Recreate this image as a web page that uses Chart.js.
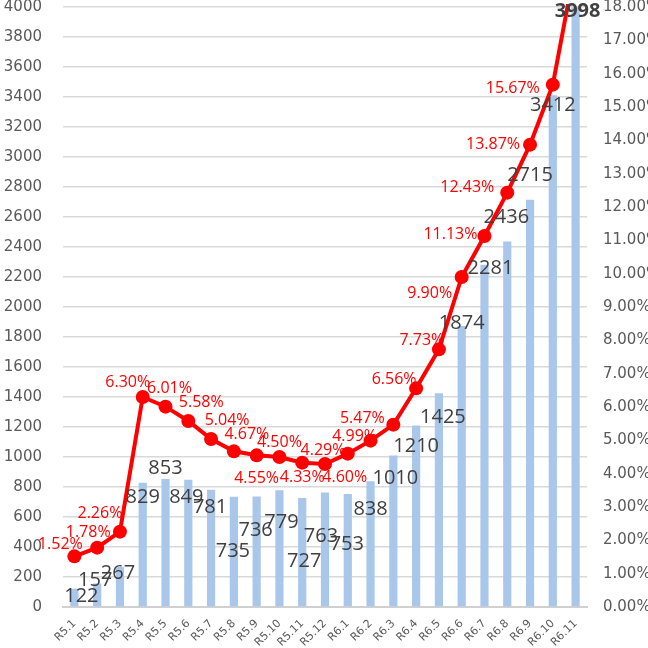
<!DOCTYPE html>
<html>
<head>
<meta charset="utf-8">
<script src="https://cdn.jsdelivr.net/npm/chart.js@4/dist/chart.umd.min.js"></script>
<style>
  html, body { margin: 0; padding: 0; background: #fff; }
  #wrap { width: 648px; height: 648px; }
</style>
</head>
<body>
<div id="wrap"><canvas id="myChart" width="648" height="648"></canvas></div>
<script>
const months = ["R5.1", "R5.2", "R5.3", "R5.4", "R5.5", "R5.6", "R5.7", "R5.8", "R5.9", "R5.10", "R5.11", "R5.12",
  "R6.1", "R6.2", "R6.3", "R6.4", "R6.5", "R6.6", "R6.7", "R6.8", "R6.9", "R6.10", "R6.11"];
const counts = [122, 157, 267, 829, 853, 849, 781, 735, 736, 779, 727, 763,
  753, 838, 1010, 1210, 1425, 1874, 2281, 2436, 2715, 3412, 3998];
const rates = [1.52, 1.78, 2.26, 6.30, 6.01, 5.58, 5.04, 4.67, 4.55, 4.50, 4.33, 4.29,
  4.60, 4.99, 5.47, 6.56, 7.73, 9.90, 11.13, 12.43, 13.87, 15.67, 19.3];

// label placement (pixels, relative to bar top / point), like excel put them
const countOffsets = [[7, 8], [-2, -3], [-2, 6], [0, 15], [0, -11], [-2, 18], [-1, 17], [-1, 55], [-1, 34], [2, 32],
  [2, 63], [-4, 44], [-1, 50], [0, 28], [2, 23], [0, 21], [4, 24], [0, -3], [6, 3], [-1, -24], [0, -24], [0, 10], [2, 4]];
const rateOffsets = [[-14, -12], [-9, -15], [-20, -18], [-15, -15], [4, -18], [13, -19], [16, -19], [13, -17], [0, 23],
  [0, -15], [0, 15], [-2, -14], [-3, 24], [-16, -4], [-31, -6], [-22, -9], [-17, -9], [-32, 16], [-34, -2], [-40, -5],
  [-37, 0], [-40, 4], null];

const labelPlugin = {
  id: "valueLabels",
  afterDatasetsDraw(chart) {
    const ctx = chart.ctx;
    const area = chart.chartArea;
    ctx.save();
    ctx.textAlign = "center";
    ctx.textBaseline = "middle";

    const bars = chart.getDatasetMeta(1).data;
    bars.forEach((bar, i) => {
      const off = countOffsets[i];
      ctx.font = (i === bars.length - 1 ? "bold " : "") + "20px 'Open Sans'";
      ctx.fillStyle = "#404040";
      ctx.fillText(String(counts[i]), bar.x + off[0], bar.y + off[1]);
    });

    const pts = chart.getDatasetMeta(0).data;
    ctx.font = "16px 'Open Sans'";
    ctx.fillStyle = "#ff0000";
    pts.forEach((p, i) => {
      const off = rateOffsets[i];
      if (!off || p.y < area.top) return;
      ctx.fillText(rates[i].toFixed(2) + "%", p.x + off[0], p.y + off[1]);
    });
    ctx.restore();
  },
};

const ctx = document.getElementById("myChart").getContext("2d");

const myChart = new Chart(ctx, {
  data: {
    labels: months,
    datasets: [
      {
        type: "line",
        data: rates,
        yAxisID: "y1",
        borderColor: "#ff0000",
        backgroundColor: "#ff0000",
        borderWidth: 4,
        pointRadius: 7,
        pointBackgroundColor: "#ff0000",
        pointBorderWidth: 0,
        tension: 0,
        clip: { left: 10, top: 3, right: 10, bottom: 10 },
        order: 0,
      },
      {
        type: "bar",
        data: counts,
        yAxisID: "y",
        backgroundColor: "#a9c7eb",
        categoryPercentage: 1,
        barPercentage: 0.36,
        order: 1,
      },
    ],
  },
  plugins: [labelPlugin],
  options: {
    responsive: false,
    animation: false,
    layout: { padding: { top: 3, left: 0, right: 0, bottom: 0 } },
    plugins: {
      legend: { display: false },
      tooltip: { enabled: false },
    },
    scales: {
      x: {
        grid: { display: false },
        border: { color: "#d0d0d0", width: 2 },
        ticks: {
          color: "#595959",
          font: { family: "'DejaVu Sans'", size: 11 },
          minRotation: 45,
          maxRotation: 45,
          autoSkip: false,
          padding: 2,
        },
        afterFit(scale) {
          scale.height = 41;
          scale.paddingLeft = 0;
          scale.paddingRight = 0;
        },
      },
      y: {
        position: "left",
        min: 0,
        max: 4000,
        grid: { color: "#d9d9d9", lineWidth: 1.5, drawTicks: false },
        border: { display: false },
        ticks: {
          stepSize: 200,
          color: "#595959",
          font: { family: "'DejaVu Sans'", size: 15 },
          padding: 21,
          callback: (v) => String(v),
        },
        afterFit(scale) {
          scale.width = 63;
          scale.paddingTop = 0;
          scale.paddingBottom = 0;
        },
      },
      y1: {
        position: "right",
        min: 0,
        max: 18,
        grid: { display: false, drawTicks: false },
        border: { display: false },
        ticks: {
          stepSize: 1,
          color: "#595959",
          font: { family: "'DejaVu Sans'", size: 15 },
          padding: 16,
          callback: (v) => v.toFixed(2) + "%",
        },
        afterFit(scale) {
          scale.width = 61;
          scale.paddingTop = 0;
          scale.paddingBottom = 0;
        },
      },
    },
  },
});
</script>
</body>
</html>
